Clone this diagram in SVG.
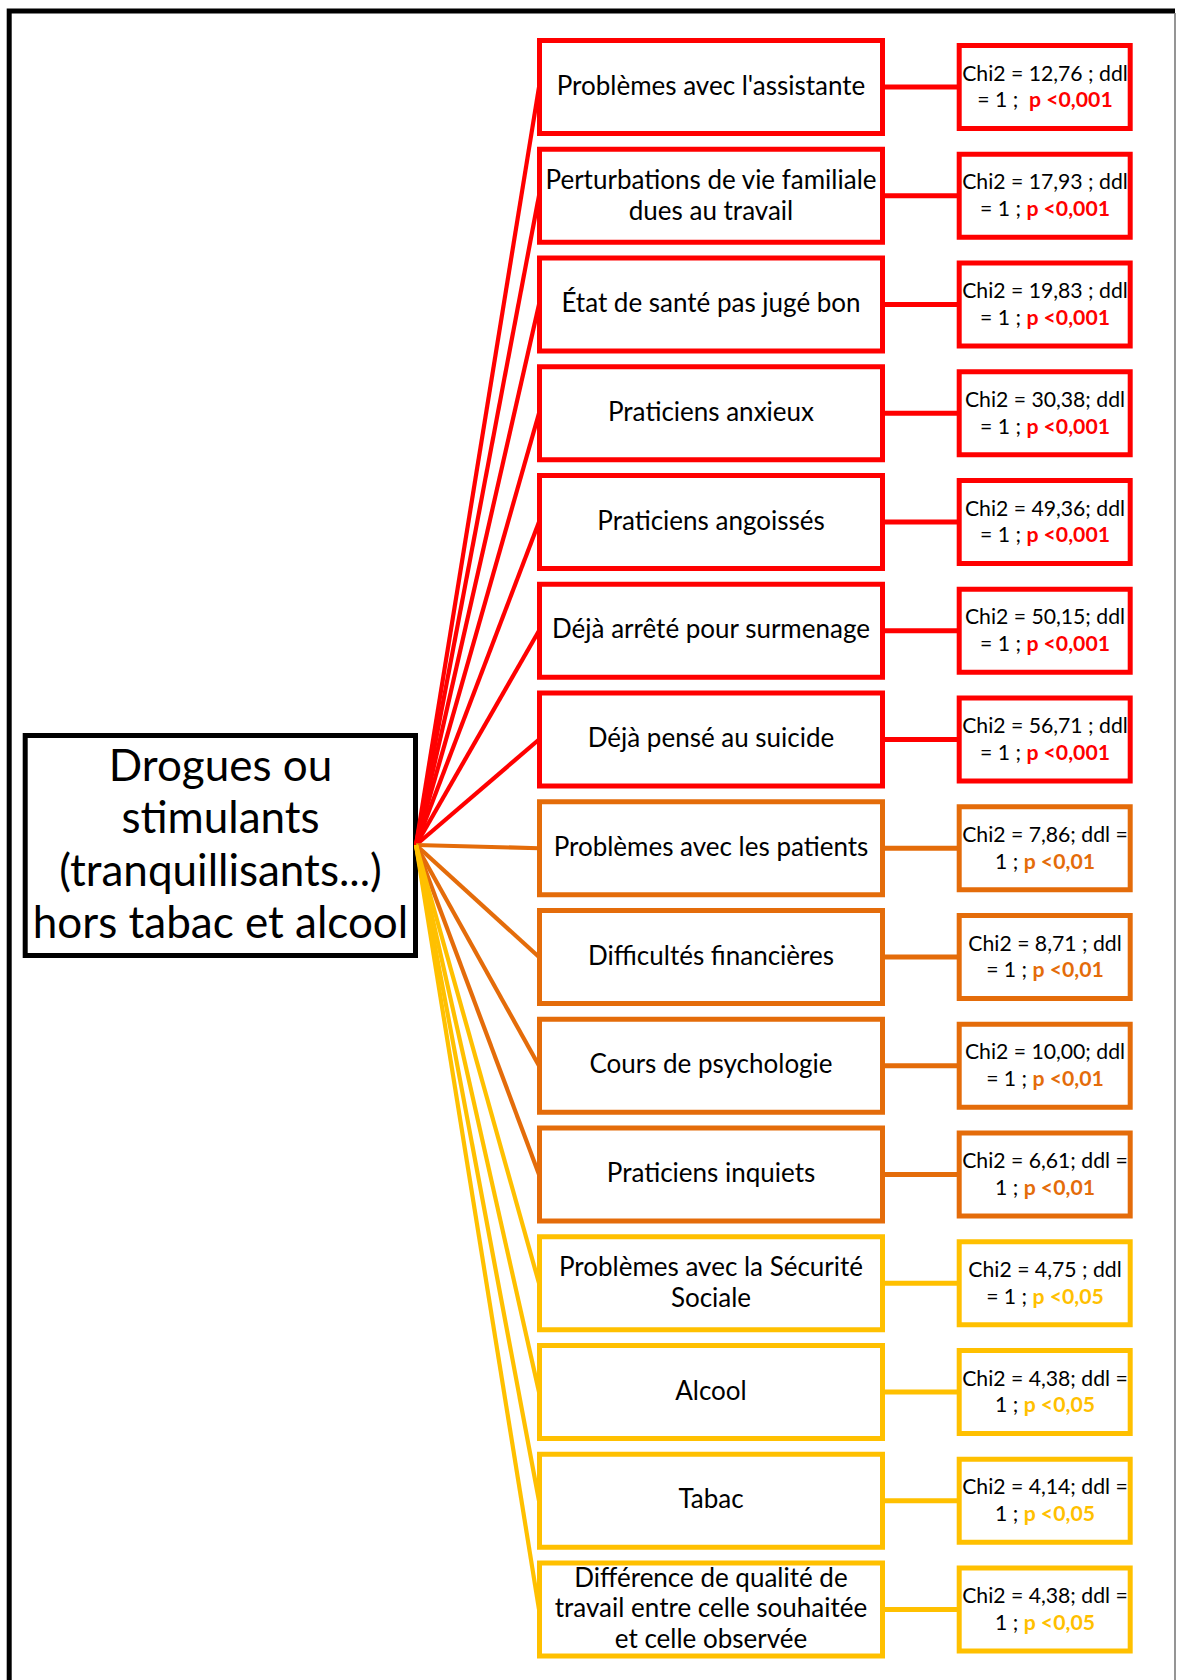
<svg xmlns="http://www.w3.org/2000/svg" width="1178" height="1680" viewBox="0 0 1178 1680">
<style>
text{font-family:Lato,"Open Sans","Liberation Sans",sans-serif;fill:#000;text-anchor:middle}
.main{font-size:26px}
.hub{font-size:44px}
.chi{font-size:21.2px}
.p{font-weight:bold}
.box{fill:#fff;stroke-width:5}
.cbox{fill:none;stroke-width:5}
.r{stroke:#FF0000}.o{stroke:#E46C0A}.y{stroke:#FFC000}
.pr{fill:#FF0000}.po{fill:#E46C0A}.py{fill:#FFC000}
#connectors line{stroke-width:4.2;fill:none}
#links line{stroke-width:5}
</style>
<rect width="1178" height="1680" fill="#fff"/>
<g id="frame">
<path d="M9.2,1680 V11 H1175" fill="none" stroke="#000" stroke-width="5"/>
<line x1="1175" y1="13" x2="1175" y2="1680" stroke="#7a7a7a" stroke-width="1.6"/>
</g>
<g id="center">
<rect x="25.2" y="735.5" width="390.3" height="220" fill="#fff" stroke="#000" stroke-width="5"/>
<text class="hub" x="220.5" y="781">Drogues ou</text>
<text class="hub" x="220.5" y="833.3">stimulants</text>
<text class="hub" x="220.5" y="885.7">(tranquillisants...)</text>
<text class="hub" x="220.5" y="938">hors tabac et alcool</text>
</g>
<g id="connectors">
<line class="r" x1="416" y1="845" x2="539" y2="87"/>
<line class="r" x1="416" y1="845" x2="539" y2="195.75"/>
<line class="r" x1="416" y1="845" x2="539" y2="304.5"/>
<line class="r" x1="416" y1="845" x2="539" y2="413.25"/>
<line class="r" x1="416" y1="845" x2="539" y2="522"/>
<line class="r" x1="416" y1="845" x2="539" y2="630.75"/>
<line class="r" x1="416" y1="845" x2="539" y2="739.5"/>
<line class="o" x1="416" y1="845" x2="539" y2="848.25"/>
<line class="o" x1="416" y1="845" x2="539" y2="957"/>
<line class="o" x1="416" y1="845" x2="539" y2="1065.75"/>
<line class="o" x1="416" y1="845" x2="539" y2="1174.5"/>
<line class="y" x1="416" y1="845" x2="539" y2="1283.25"/>
<line class="y" x1="416" y1="845" x2="539" y2="1392"/>
<line class="y" x1="416" y1="845" x2="539" y2="1500.75"/>
<line class="y" x1="416" y1="845" x2="539" y2="1609.5"/>
</g>
<g id="links">
<line class="r" x1="884" y1="87" x2="958" y2="87"/>
<line class="r" x1="884" y1="195.75" x2="958" y2="195.75"/>
<line class="r" x1="884" y1="304.5" x2="958" y2="304.5"/>
<line class="r" x1="884" y1="413.25" x2="958" y2="413.25"/>
<line class="r" x1="884" y1="522" x2="958" y2="522"/>
<line class="r" x1="884" y1="630.75" x2="958" y2="630.75"/>
<line class="r" x1="884" y1="739.5" x2="958" y2="739.5"/>
<line class="o" x1="884" y1="848.25" x2="958" y2="848.25"/>
<line class="o" x1="884" y1="957" x2="958" y2="957"/>
<line class="o" x1="884" y1="1065.75" x2="958" y2="1065.75"/>
<line class="o" x1="884" y1="1174.5" x2="958" y2="1174.5"/>
<line class="y" x1="884" y1="1283.25" x2="958" y2="1283.25"/>
<line class="y" x1="884" y1="1392" x2="958" y2="1392"/>
<line class="y" x1="884" y1="1500.75" x2="958" y2="1500.75"/>
<line class="y" x1="884" y1="1609.5" x2="958" y2="1609.5"/>
</g>

<g id="n1"><rect class="box r" x="539.5" y="40.5" width="343" height="93"/><text class="main" x="711" y="94.7">Problèmes avec l'assistante</text></g>
<g id="s1"><text class="chi" x="1045" y="80.7">Chi2 = 12,76 ; ddl</text><text class="chi" x="1045" y="107.3">= 1 ;&#160; <tspan class="p pr">p &lt;0,001</tspan></text><rect class="cbox r" x="959.2" y="45.5" width="171" height="83"/></g>

<g id="n2"><rect class="box r" x="539.5" y="149.25" width="343" height="93"/><text class="main" x="711" y="188.75">Perturbations de vie familiale</text><text class="main" x="711" y="219.75">dues au travail</text></g>
<g id="s2"><text class="chi" x="1045" y="189.45">Chi2 = 17,93 ; ddl</text><text class="chi" x="1045" y="216.05">= 1 ; <tspan class="p pr">p &lt;0,001</tspan></text><rect class="cbox r" x="959.2" y="154.25" width="171" height="83"/></g>

<g id="n3"><rect class="box r" x="539.5" y="258" width="343" height="93"/><text class="main" x="711" y="312.2">État de santé pas jugé bon</text></g>
<g id="s3"><text class="chi" x="1045" y="298.2">Chi2 = 19,83 ; ddl</text><text class="chi" x="1045" y="324.8">= 1 ; <tspan class="p pr">p &lt;0,001</tspan></text><rect class="cbox r" x="959.2" y="263" width="171" height="83"/></g>

<g id="n4"><rect class="box r" x="539.5" y="366.75" width="343" height="93"/><text class="main" x="711" y="420.95">Praticiens anxieux</text></g>
<g id="s4"><text class="chi" x="1045" y="406.95">Chi2 = 30,38; ddl</text><text class="chi" x="1045" y="433.55">= 1 ; <tspan class="p pr">p &lt;0,001</tspan></text><rect class="cbox r" x="959.2" y="371.75" width="171" height="83"/></g>

<g id="n5"><rect class="box r" x="539.5" y="475.5" width="343" height="93"/><text class="main" x="711" y="529.7">Praticiens angoissés</text></g>
<g id="s5"><text class="chi" x="1045" y="515.7">Chi2 = 49,36; ddl</text><text class="chi" x="1045" y="542.3">= 1 ; <tspan class="p pr">p &lt;0,001</tspan></text><rect class="cbox r" x="959.2" y="480.5" width="171" height="83"/></g>

<g id="n6"><rect class="box r" x="539.5" y="584.25" width="343" height="93"/><text class="main" x="711" y="638.45">Déjà arrêté pour surmenage</text></g>
<g id="s6"><text class="chi" x="1045" y="624.45">Chi2 = 50,15; ddl</text><text class="chi" x="1045" y="651.05">= 1 ; <tspan class="p pr">p &lt;0,001</tspan></text><rect class="cbox r" x="959.2" y="589.25" width="171" height="83"/></g>

<g id="n7"><rect class="box r" x="539.5" y="693" width="343" height="93"/><text class="main" x="711" y="747.2">Déjà pensé au suicide</text></g>
<g id="s7"><text class="chi" x="1045" y="733.2">Chi2 = 56,71 ; ddl</text><text class="chi" x="1045" y="759.8">= 1 ; <tspan class="p pr">p &lt;0,001</tspan></text><rect class="cbox r" x="959.2" y="698" width="171" height="83"/></g>

<g id="n8"><rect class="box o" x="539.5" y="801.75" width="343" height="93"/><text class="main" x="711" y="855.95">Problèmes avec les patients</text></g>
<g id="s8"><text class="chi" x="1045" y="841.95">Chi2 = 7,86; ddl =</text><text class="chi" x="1045" y="868.55">1 ; <tspan class="p po">p &lt;0,01</tspan></text><rect class="cbox o" x="959.2" y="806.75" width="171" height="83"/></g>

<g id="n9"><rect class="box o" x="539.5" y="910.5" width="343" height="93"/><text class="main" x="711" y="964.7">Difficultés financières</text></g>
<g id="s9"><text class="chi" x="1045" y="950.7">Chi2 = 8,71 ; ddl</text><text class="chi" x="1045" y="977.3">= 1 ; <tspan class="p po">p &lt;0,01</tspan></text><rect class="cbox o" x="959.2" y="915.5" width="171" height="83"/></g>

<g id="n10"><rect class="box o" x="539.5" y="1019.25" width="343" height="93"/><text class="main" x="711" y="1073.45">Cours de psychologie</text></g>
<g id="s10"><text class="chi" x="1045" y="1059.45">Chi2 = 10,00; ddl</text><text class="chi" x="1045" y="1086.05">= 1 ; <tspan class="p po">p &lt;0,01</tspan></text><rect class="cbox o" x="959.2" y="1024.25" width="171" height="83"/></g>

<g id="n11"><rect class="box o" x="539.5" y="1128" width="343" height="93"/><text class="main" x="711" y="1182.2">Praticiens inquiets</text></g>
<g id="s11"><text class="chi" x="1045" y="1168.2">Chi2 = 6,61; ddl =</text><text class="chi" x="1045" y="1194.8">1 ; <tspan class="p po">p &lt;0,01</tspan></text><rect class="cbox o" x="959.2" y="1133" width="171" height="83"/></g>

<g id="n12"><rect class="box y" x="539.5" y="1236.75" width="343" height="93"/><text class="main" x="711" y="1276.25">Problèmes avec la Sécurité</text><text class="main" x="711" y="1307.25">Sociale</text></g>
<g id="s12"><text class="chi" x="1045" y="1276.95">Chi2 = 4,75 ; ddl</text><text class="chi" x="1045" y="1303.55">= 1 ; <tspan class="p py">p &lt;0,05</tspan></text><rect class="cbox y" x="959.2" y="1241.75" width="171" height="83"/></g>

<g id="n13"><rect class="box y" x="539.5" y="1345.5" width="343" height="93"/><text class="main" x="711" y="1399.7">Alcool</text></g>
<g id="s13"><text class="chi" x="1045" y="1385.7">Chi2 = 4,38; ddl =</text><text class="chi" x="1045" y="1412.3">1 ; <tspan class="p py">p &lt;0,05</tspan></text><rect class="cbox y" x="959.2" y="1350.5" width="171" height="83"/></g>

<g id="n14"><rect class="box y" x="539.5" y="1454.25" width="343" height="93"/><text class="main" x="711" y="1508.45">Tabac</text></g>
<g id="s14"><text class="chi" x="1045" y="1494.45">Chi2 = 4,14; ddl =</text><text class="chi" x="1045" y="1521.05">1 ; <tspan class="p py">p &lt;0,05</tspan></text><rect class="cbox y" x="959.2" y="1459.25" width="171" height="83"/></g>

<g id="n15"><rect class="box y" x="539.5" y="1563" width="343" height="93"/><text class="main" x="711" y="1586.7">Différence de qualité de</text><text class="main" x="711" y="1617.2">travail entre celle souhaitée</text><text class="main" x="711" y="1647.7">et celle observée</text></g>
<g id="s15"><text class="chi" x="1045" y="1603.2">Chi2 = 4,38; ddl =</text><text class="chi" x="1045" y="1629.8">1 ; <tspan class="p py">p &lt;0,05</tspan></text><rect class="cbox y" x="959.2" y="1568" width="171" height="83"/></g>
</svg>
